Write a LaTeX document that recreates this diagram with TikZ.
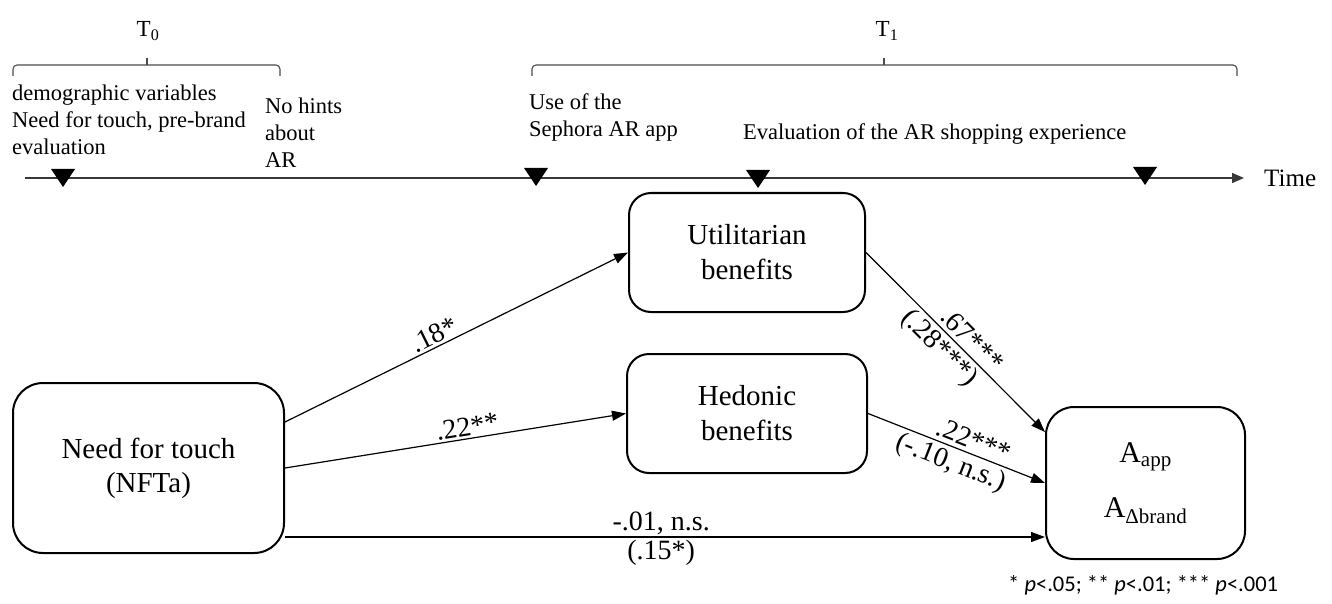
\documentclass[tikz,border=0pt]{standalone}
\usepackage{fontspec}
\setmainfont{Liberation Serif}
\newfontfamily\calib{Carlito}
\usetikzlibrary{arrows.meta}
\begin{document}
\begin{tikzpicture}[x=1pt,y=-1pt,
  box/.style={draw, line width=2pt, rounded corners=22pt, align=center, font=\fontsize{29}{35}\selectfont, inner sep=0pt},
  conn/.style={line width=1.2pt, -{Triangle[length=14pt,width=10pt]}},
  lbl/.style={font=\fontsize{28}{36}\selectfont, inner sep=2pt, align=center},
  tl/.style={font=\fontsize{22.5}{27}\selectfont, inner sep=0pt, align=left},
  tline/.style={draw=black!78, line width=1.4pt},
  brk/.style={draw=black!70, line width=1.1pt}]
\useasboundingbox (0,0) rectangle (1332,604);
% boxes
\node[box, minimum width=271pt, minimum height=170pt, rounded corners=30pt, font=\fontsize{29}{34}\selectfont] (nft) at (148.5,468) {Need for touch\\(NFTa)};
\node[box, minimum width=236pt, minimum height=119pt] (util) at (747,252.5) {Utilitarian\\benefits};
\node[box, minimum width=240pt, minimum height=119pt] (hed) at (747,413.5) {Hedonic\\benefits};
\node[box, minimum width=199pt, minimum height=152pt, rounded corners=28pt, font=\fontsize{30}{55}\selectfont] (att) at (1145.5,483) {A\textsubscript{app}\\A\textsubscript{Δbrand}};
% connectors
\draw[conn] ([yshift=46pt]nft.east) -- (util.west) node[lbl, sloped, above, pos=0.45] {.18*};
\draw[conn] (nft.east) -- (hed.west) node[lbl, sloped, above, pos=0.54] {.22**};
\draw[conn] ([yshift=-69pt]nft.east) -- ([yshift=-54pt]att.west)
  node[lbl, above, pos=0.495] {-.01, n.s.} node[lbl, below, pos=0.495] {(.15*)};
\draw[conn] (util.east) -- ([yshift=51pt]att.west)
  node[lbl, sloped, above, inner sep=4pt, pos=0.54] {.67***}
  node[lbl, sloped, below, inner sep=3pt, pos=0.47] {(.28***)};
\draw[conn] (hed.east) -- (att.west)
  node[lbl, sloped, above, inner sep=4pt, pos=0.57] {.22***}
  node[lbl, sloped, below, inner sep=3pt, pos=0.5] {(-.10, n.s.)};
% timeline
\coordinate (ts) at (25,178);
\coordinate (te) at (1244,178);
\draw[tline, -{Triangle[length=12pt,width=10pt]}] (ts) -- (te);
\foreach \x/\t in {63/169, 536/168, 758/170, 1145/167}
  \fill ({\x},{\t+18}) -- ({\x-12},\t) -- ({\x+12},\t) -- cycle;
\node[anchor=base west, font=\fontsize{25}{30}\selectfont, inner sep=0pt] (time) at (1264,186) {Time};
% brackets
\draw[brk, rounded corners=4pt] (13,76) -- (13,65) -- (280,65) -- (280,76);
\draw[brk] (147,65) -- (147,58);
\draw[brk, rounded corners=4pt] (532,76) -- (532,65) -- (1237,65) -- (1237,76);
\draw[brk] (884,65) -- (884,58);
\node[font=\fontsize{23}{27}\selectfont, inner sep=0pt, anchor=base] (t0) at (148,37) {T\textsubscript{0}};
\node[font=\fontsize{23}{27}\selectfont, inner sep=0pt, anchor=base] (t1) at (887,37) {T\textsubscript{1}};
% timeline texts
\node[tl, anchor=north west] (demo) at (12,85) {demographic variables\\Need for touch, pre-brand\\evaluation};
\node[tl, anchor=north west] (hints) at (265,98) {No hints\\about\\AR};
\node[tl, anchor=north west] (use) at (529,93) {Use of the\\Sephora AR app};
\node[tl, anchor=base west] (eval) at (743,140) {Evaluation of the AR shopping experience};
% footnote
\node[anchor=base west, inner sep=0pt, font=\calib\fontsize{22.5}{27}\selectfont] (note) at (1008,591) {* \textit{p}<.05; ** \textit{p}<.01; *** \textit{p}<.001};
\end{tikzpicture}
\end{document}
